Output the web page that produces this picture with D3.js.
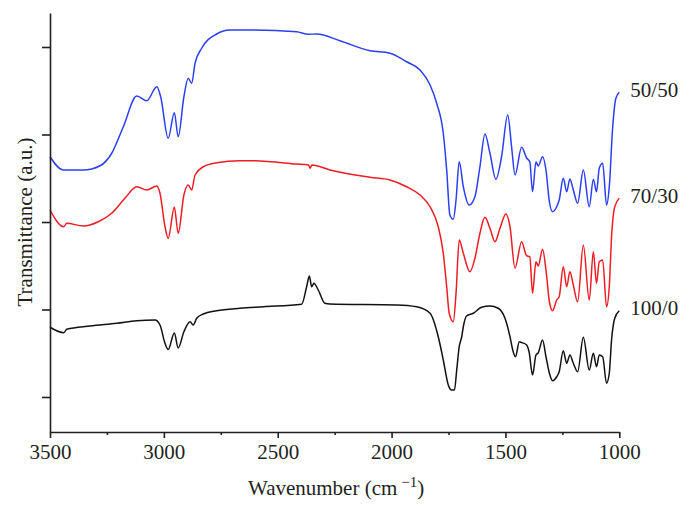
<!DOCTYPE html>
<html>
<head>
<meta charset="utf-8">
<script src="https://cdn.jsdelivr.net/npm/d3@7/dist/d3.min.js"></script>
<style>
  html, body { margin: 0; padding: 0; background: #fff; }
  svg text { font-family: "Liberation Serif", "DejaVu Serif", serif; fill: #231f20; }
</style>
</head>
<body>
<svg id="chart" width="692" height="513"></svg>
<script>
// ---- data (wavenumber cm^-1, transmittance in arbitrary units) ----
const wn5050 = [3500,3442,3354,3280,3229,3178,3119,3075,3031,3014,2981,2954,2937,2912,2893,2878,2863,2834,2768,2710,2666,2607,2417,2366,2329,2227,2095,2007,1934,1875,1831,1802,1773,1758,1744,1729,1717,1703,1685,1659,1634,1612,1590,1568,1542,1517,1490,1473,1458,1429,1407,1393,1381,1366,1356,1337,1322,1307,1293,1275,1264,1246,1231,1217,1202,1183,1158,1132,1114,1100,1088,1073,1056,1044,1029,1015,1000];
const t5050 = [96.1,90.8,90.8,92.5,97.5,108.1,120.4,118.5,124.1,120.1,103.5,113.7,104.1,120.1,127.5,125.5,133.5,139.5,145.2,146.8,146.8,146.8,146.1,145.1,145.2,142.5,138.5,137.5,134.1,130.8,124.8,117.5,105.5,90.8,72.8,71.1,78.8,94.1,84.1,76.8,80.1,92.1,105.2,97.5,87.1,96.1,112.8,100.1,88.8,99.9,95.6,94.1,82.1,94.1,92.4,96.1,90.8,78.1,74.1,76.1,78.8,87.5,82.1,87.2,82.8,77.5,90.8,76.1,87.1,82.1,91.5,93.5,76.8,84.1,108.1,119.5,121.9];

const wn7030 = [3500,3439,3427,3354,3288,3229,3171,3119,3075,3031,3017,2995,2981,2954,2937,2912,2893,2878,2863,2827,2768,2666,2622,2417,2365,2358,2350,2271,2095,2007,1934,1875,1831,1795,1773,1758,1747,1729,1717,1703,1685,1656,1634,1612,1590,1568,1546,1524,1498,1480,1458,1429,1407,1393,1381,1366,1356,1337,1322,1307,1293,1275,1264,1246,1231,1217,1202,1183,1158,1132,1114,1100,1088,1073,1056,1044,1034,1020,1000];
const t7030 = [74.8,68.1,69.5,68.4,70.1,73.5,79.5,84.1,82.8,84.4,81.5,68.1,63.5,75.9,65.5,80.8,84.8,82.8,88.8,92.1,93.7,94.5,94.5,93.2,92.8,91.5,92.8,90.8,87.9,86.8,84.1,80.8,76.1,68.1,57.5,44.1,33.5,30.1,41.5,62.8,57.5,50.1,55.5,65.5,71.9,67.5,62.1,67.5,73.2,68.1,51.5,62.1,56.5,56.1,41.5,54.1,52.4,59.1,50.8,38.1,34.5,38.8,40.1,52.1,44.1,50.1,44.8,38.1,60.8,38.8,58.1,45.5,54.1,54.8,36.1,44.1,64.1,76.1,79.5];

const wn1000 = [3500,3439,3427,3324,3207,3119,3039,3017,2995,2981,2954,2937,2912,2885,2871,2856,2827,2768,2666,2563,2395,2373,2361,2351,2341,2322,2293,2271,1978,1890,1831,1795,1773,1751,1736,1724,1714,1703,1692,1685,1671,1641,1605,1568,1532,1502,1480,1468,1456,1439,1429,1407,1396,1381,1366,1356,1337,1322,1307,1293,1275,1264,1246,1231,1217,1202,1183,1158,1132,1114,1100,1088,1073,1056,1044,1034,1020,1000];
const t1000 = [27.9,25.7,27.1,28.4,29.5,30.5,30.8,28.8,21.5,19.0,25.6,19.6,26.1,30.1,28.8,31.5,33.2,34.5,35.5,36.1,37.1,44.1,48.4,44.1,45.5,42.8,37.5,37.2,36.8,36.1,33.5,24.1,14.8,4.8,2.8,2.8,10.8,20.1,24.1,28.1,32.4,33.5,35.9,36.4,35.5,31.5,24.1,18.8,16.1,22.1,21.8,20.8,18.0,8.8,16.8,17.7,22.8,16.1,9.5,6.5,8.1,10.1,18.5,13.5,16.8,13.5,10.1,23.9,10.8,17.5,12.1,16.8,16.1,5.5,9.5,22.8,31.5,34.5];

const seriesNames = ["50/50", "70/30", "100/0"];
const seriesColors = ["#2b3ff0", "#ee1c24", "#111111"];
const xTicks = [3500, 3000, 2500, 2000, 1500, 1000];
const xMinorTicks = [3250, 2750, 2250, 1750, 1250];
const yTicks = [0, 35, 70, 105, 140];
const xTitle = "Wavenumber (cm";
const xTitleSup = "\u22121";
const yTitle = "Transmittance (a.u.)";

// ---- layout ----
const svg = d3.select("#chart");
const x = d3.scaleLinear().domain([3500, 1000]).range([50, 619.3]);
const y = d3.scaleLinear().domain([-14, 153.6]).range([432, 13]);

const series = [
  { name: seriesNames[0], color: seriesColors[0], pts: wn5050.map((w, i) => [w, t5050[i]]) },
  { name: seriesNames[1], color: seriesColors[1], pts: wn7030.map((w, i) => [w, t7030[i]]) },
  { name: seriesNames[2], color: seriesColors[2], pts: wn1000.map((w, i) => [w, t1000[i]]) }
];

const line = d3.line()
  .x(d => x(d[0]))
  .y(d => y(d[1]))
  .curve(d3.curveMonotoneX);

svg.append("g").selectAll("path")
  .data(series)
  .join("path")
  .attr("d", d => line(d.pts))
  .attr("fill", "none")
  .attr("stroke", d => d.color)
  .attr("stroke-width", 1.5)
  .attr("stroke-linejoin", "round");

// ---- axes ----
const axisColor = "#231f20";
const gx = svg.append("g").attr("transform", `translate(0,${y.range()[0]})`)
  .call(d3.axisBottom(x).tickValues(xTicks).tickSize(6).tickSizeOuter(0).tickPadding(6).tickFormat(d3.format("d")));
gx.selectAll("text").attr("font-size", 21).attr("dy", "0.71em");
const gxm = svg.append("g").attr("transform", `translate(0,${y.range()[0]})`)
  .call(d3.axisBottom(x).tickValues(xMinorTicks).tickSize(3).tickSizeOuter(0).tickFormat(""));
gxm.select(".domain").remove();

const gy = svg.append("g").attr("transform", `translate(${x.range()[0]},0)`)
  .call(d3.axisLeft(y).tickValues(yTicks).tickSize(8).tickSizeOuter(0).tickFormat(""));

svg.selectAll(".domain, .tick line").attr("stroke", axisColor).attr("stroke-width", 1.6);
svg.selectAll(".tick text").attr("fill", axisColor).attr("font-family", '"Liberation Serif", serif');

// ---- titles ----
const xt = svg.append("text")
  .attr("x", 248).attr("y", 495)
  .attr("font-size", 21);
xt.append("tspan").text(xTitle);
xt.append("tspan").attr("dx", 4).attr("dy", -8).attr("font-size", 15).text(xTitleSup);
xt.append("tspan").attr("dy", 8).text(")");

svg.append("text")
  .attr("transform", "translate(32,222) rotate(-90)")
  .attr("text-anchor", "middle")
  .attr("font-size", 21)
  .text(yTitle);

// ---- series labels at right end ----
svg.append("g").selectAll("text")
  .data(series)
  .join("text")
  .attr("x", x(1000) + 11)
  .attr("y", d => y(d.pts[d.pts.length - 1][1]) + 4.5)
  .attr("font-size", 21)
  .text(d => d.name);
</script>
</body>
</html>
